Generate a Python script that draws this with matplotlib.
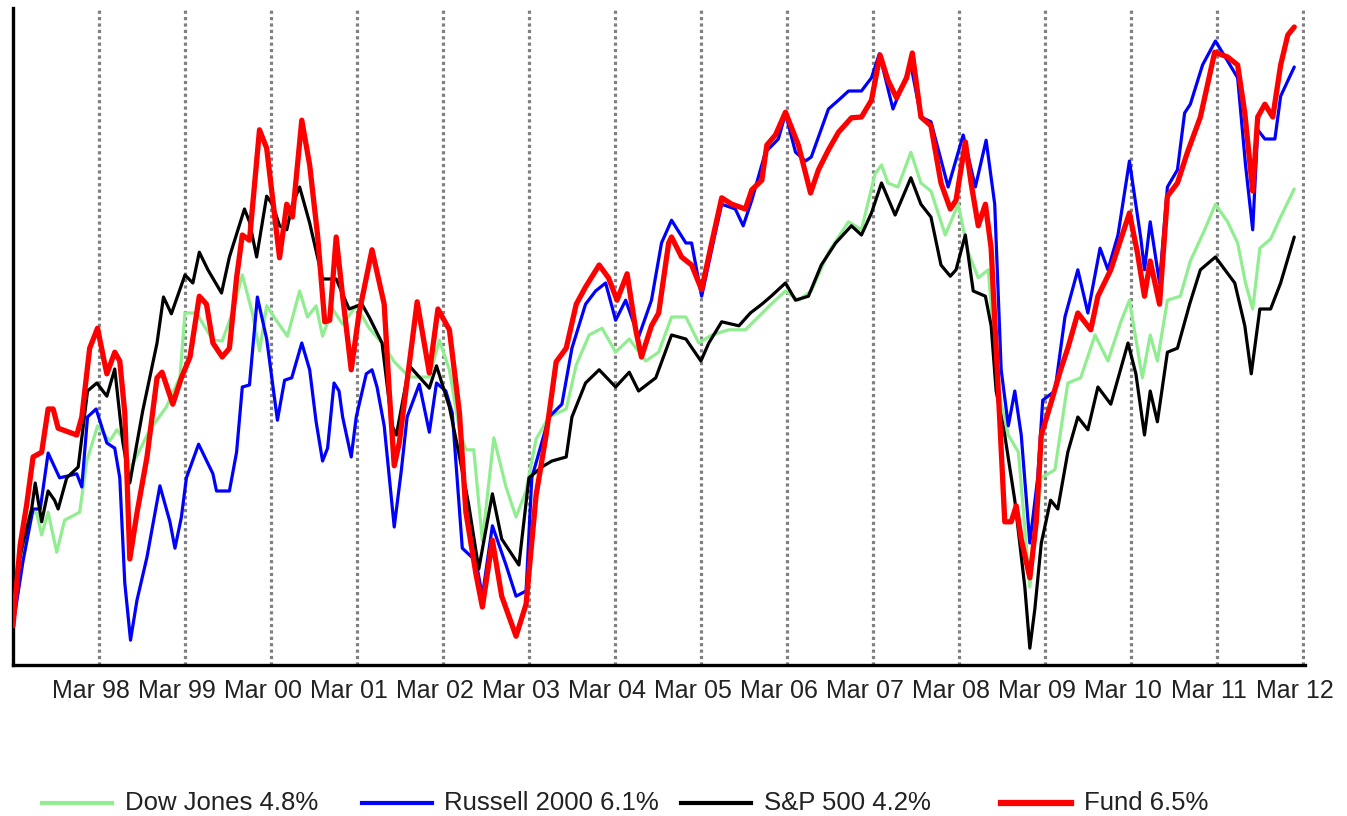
import matplotlib
matplotlib.use("Agg")
import matplotlib.pyplot as plt
import matplotlib.transforms as mtransforms
from matplotlib.lines import Line2D

plt.rcParams['font.family'] = ['Liberation Sans', 'DejaVu Sans']

# (months since Mar 1997, index level) - the chart shows no y scale
dow = [(0.0, 99.8), (0.6, 111.2), (2.4, 128.2), (3.3, 128.0), (4.0, 122.5), (4.9, 128.2), (6.1, 118.2),
       (7.2, 126.2), (9.3, 128.2), (10.3, 141.0), (11.8, 149.8), (13.5, 146.0), (14.5, 148.8), (15.6, 146.2),
       (16.3, 138.8), (17.7, 143.8), (19.1, 148.8), (21.4, 154.5), (23.3, 162.0), (24.0, 178.0), (25.6, 178.0),
       (27.9, 171.2), (29.2, 171.0), (30.6, 178.0), (32.0, 187.5), (33.4, 178.0), (34.4, 168.5), (35.4, 179.8),
       (36.8, 176.0), (38.3, 172.2), (40.0, 183.5), (41.1, 177.0), (42.3, 179.8), (43.2, 172.2), (44.6, 179.0),
       (46.0, 175.2), (47.9, 179.8), (49.7, 174.2), (51.5, 170.5), (53.2, 165.8), (55.3, 162.0), (58.1, 162.0),
       (59.5, 171.2), (60.9, 163.8), (62.3, 148.8), (63.2, 143.8), (64.3, 143.8), (65.5, 121.0), (67.1, 146.8),
       (68.8, 134.5), (70.2, 127.0), (71.6, 133.5), (73.0, 146.5), (74.8, 152.0), (77.2, 154.0), (78.6, 165.0),
       (80.4, 172.5), (82.2, 174.2), (84.1, 168.2), (86.0, 171.5), (88.3, 166.0), (90.1, 168.2), (91.9, 177.0),
       (93.9, 177.0), (95.7, 170.5), (97.5, 172.5), (99.9, 173.8), (102.2, 173.8), (104.0, 177.0), (105.8, 180.2),
       (107.8, 183.5), (109.6, 181.2), (111.4, 183.5), (113.8, 193.2), (116.6, 200.8), (118.4, 198.8),
       (120.3, 212.8), (121.2, 215.0), (122.1, 210.5), (123.5, 209.5), (125.3, 218.2), (126.7, 210.5),
       (128.1, 208.5), (130.1, 197.5), (131.9, 205.2), (133.3, 193.2), (134.7, 186.8), (136.1, 188.8),
       (137.5, 158.5), (138.9, 147.5), (140.3, 143.2), (141.9, 109.5), (143.5, 136.8), (145.4, 138.8),
       (147.2, 160.5), (149.0, 161.8), (151.0, 172.5), (152.8, 166.0), (154.6, 175.8), (155.8, 181.2),
       (157.6, 161.8), (158.7, 172.5), (159.7, 166.0), (161.1, 181.2), (162.9, 182.2), (164.3, 191.0),
       (166.3, 198.8), (167.8, 205.2), (169.5, 200.8), (170.9, 195.5), (172.0, 185.5), (173.0, 179.0),
       (174.0, 194.2), (175.5, 196.5), (176.9, 202.0), (178.8, 209.0)]

russell = [(0.0, 99.8), (1.4, 116.0), (2.8, 129.0), (3.8, 129.0), (4.9, 143.0), (6.5, 136.8), (7.5, 137.2),
           (8.9, 137.8), (9.6, 134.5), (10.4, 152.0), (11.6, 154.0), (13.1, 145.5), (14.2, 144.2), (14.9, 136.8),
           (15.6, 110.5), (16.4, 96.2), (17.3, 106.2), (18.7, 117.0), (20.5, 134.8), (21.9, 125.8), (22.6, 119.2),
           (23.5, 127.0), (24.2, 136.8), (25.9, 145.2), (27.9, 137.8), (28.4, 133.5), (30.2, 133.5), (31.2, 143.2),
           (32.0, 159.5), (33.0, 160.0), (34.1, 182.0), (35.4, 171.5), (36.9, 151.2), (37.9, 161.2), (38.9, 161.8),
           (40.3, 170.5), (41.4, 163.8), (42.3, 150.8), (43.2, 141.0), (43.9, 144.2), (44.8, 160.5), (45.5, 158.5),
           (46.0, 152.0), (47.2, 142.0), (47.9, 152.0), (49.3, 162.8), (50.1, 163.8), (50.8, 159.5), (51.8, 149.8),
           (53.2, 124.5), (54.2, 138.8), (55.0, 152.0), (56.7, 160.2), (58.1, 148.2), (59.1, 160.5), (60.4, 158.5),
           (61.3, 153.0), (62.7, 119.2), (64.6, 116.0), (65.5, 107.2), (66.9, 124.8), (68.8, 115.0), (70.2, 107.2),
           (71.6, 108.5), (72.4, 136.8), (74.8, 152.0), (76.6, 155.2), (78.0, 169.2), (79.9, 180.2), (81.3, 183.5),
           (82.7, 185.5), (84.1, 176.2), (85.5, 181.2), (87.3, 172.0), (89.1, 181.2), (90.5, 195.5), (91.9, 201.2),
           (93.9, 195.5), (94.7, 195.5), (96.1, 182.2), (98.1, 198.8), (98.9, 205.2), (100.8, 204.0),
           (101.9, 199.8), (103.1, 206.2), (105.0, 218.2), (106.8, 221.5), (107.8, 227.8), (109.2, 218.2),
           (110.6, 216.0), (111.4, 217.0), (113.8, 229.0), (115.2, 231.2), (116.6, 233.5), (118.4, 233.5),
           (119.8, 236.8), (120.9, 242.8), (122.8, 229.0), (125.3, 240.0), (126.7, 227.0), (128.1, 225.8),
           (130.5, 209.5), (132.6, 222.5), (134.3, 209.5), (135.8, 221.2), (137.0, 205.2), (137.9, 163.8),
           (138.9, 149.8), (139.8, 158.5), (140.7, 147.5), (141.9, 120.5), (143.0, 136.8), (143.7, 156.2),
           (145.4, 158.5), (146.8, 177.0), (148.6, 188.8), (150.0, 178.0), (151.7, 194.2), (152.8, 188.8),
           (154.2, 197.5), (155.8, 216.0), (157.4, 196.5), (157.9, 188.8), (158.7, 200.8), (160.0, 185.5),
           (161.1, 209.5), (162.5, 213.8), (163.5, 228.0), (164.3, 230.2), (166.0, 240.0), (167.8, 246.0),
           (169.5, 241.0), (170.9, 236.8), (172.0, 215.0), (173.0, 198.8), (173.7, 223.8), (174.7, 221.5),
           (176.1, 221.5), (176.9, 232.2), (178.8, 239.5)]

sp500 = [(0.0, 99.8), (0.6, 114.0), (1.4, 120.5), (2.6, 129.0), (3.1, 135.5), (4.0, 125.8), (4.9, 133.5),
         (5.8, 131.2), (6.3, 129.0), (7.5, 136.8), (9.1, 139.5), (10.4, 158.5), (11.7, 160.5), (13.1, 157.2),
         (14.2, 164.0), (15.3, 146.0), (16.3, 135.5), (18.1, 153.5), (20.1, 170.5), (21.0, 182.0), (22.1, 177.8),
         (24.0, 187.5), (25.1, 185.5), (26.0, 193.2), (27.2, 188.8), (29.1, 183.0), (30.2, 192.0), (32.3, 204.0),
         (33.0, 200.8), (34.0, 192.0), (35.4, 207.2), (36.2, 205.2), (37.2, 199.8), (38.2, 198.8), (39.0, 205.2),
         (40.0, 209.5), (41.4, 200.5), (43.2, 186.5), (45.1, 186.5), (46.9, 179.0), (48.7, 180.2), (49.7, 177.0),
         (51.5, 170.5), (52.9, 149.8), (53.5, 147.5), (55.3, 164.8), (58.1, 159.2), (59.1, 164.8), (60.9, 154.5),
         (62.3, 142.2), (63.6, 130.0), (65.0, 114.0), (66.9, 132.8), (68.2, 121.5), (70.6, 115.0), (72.0, 136.8),
         (73.8, 139.5), (75.2, 141.0), (77.2, 142.0), (78.0, 152.0), (79.9, 160.5), (81.8, 163.8), (84.1, 159.5),
         (86.0, 163.2), (87.3, 158.5), (89.7, 161.8), (91.9, 172.5), (93.9, 171.5), (96.0, 166.0), (97.1, 170.5),
         (98.9, 175.8), (101.3, 174.8), (102.9, 178.0), (104.5, 180.2), (105.8, 182.2), (107.8, 185.5),
         (109.2, 181.2), (111.0, 182.2), (112.8, 190.0), (114.8, 195.5), (117.0, 199.8), (118.4, 197.5),
         (119.8, 203.0), (121.2, 210.5), (123.1, 202.5), (125.3, 211.8), (126.7, 205.2), (128.1, 202.0),
         (129.5, 190.0), (130.8, 187.2), (131.6, 188.8), (132.9, 197.5), (134.0, 183.5), (135.7, 182.2),
         (136.5, 174.8), (137.2, 158.5), (138.4, 147.5), (139.8, 131.2), (141.2, 109.5), (141.9, 94.2),
         (142.6, 104.0), (143.5, 120.5), (144.8, 131.2), (145.8, 129.0), (147.2, 143.2), (148.6, 152.0),
         (150.0, 148.8), (151.4, 159.5), (153.2, 155.2), (155.6, 170.5), (156.7, 162.8), (157.9, 147.5),
         (158.7, 158.5), (159.7, 150.8), (161.1, 168.2), (162.5, 169.2), (164.2, 180.2), (165.7, 188.8),
         (167.8, 192.0), (170.5, 185.5), (171.9, 174.8), (172.8, 162.8), (174.0, 179.0), (175.5, 179.0),
         (176.9, 185.5), (178.8, 197.0)]

fund = [(0.0, 99.8), (1.0, 120.0), (1.9, 130.0), (2.8, 142.0), (4.0, 143.2), (4.9, 154.0), (5.6, 154.0),
        (6.3, 149.2), (8.9, 147.5), (9.6, 152.0), (10.7, 169.2), (11.8, 174.2), (12.7, 166.2), (13.1, 162.8),
        (14.2, 168.2), (14.9, 166.0), (15.6, 153.0), (16.3, 116.5), (17.3, 128.0), (18.7, 142.0), (20.1, 161.8),
        (20.8, 163.2), (22.3, 155.2), (23.5, 161.8), (24.7, 167.0), (26.0, 182.2), (27.0, 180.2), (27.9, 170.5),
        (29.2, 167.0), (30.2, 169.2), (31.2, 186.8), (32.0, 197.5), (33.0, 196.2), (34.4, 223.8), (35.4, 219.2),
        (37.2, 191.8), (38.2, 205.2), (39.0, 202.0), (40.3, 226.2), (41.4, 215.0), (42.5, 197.5), (43.5, 175.8),
        (44.2, 176.2), (45.1, 197.0), (46.0, 182.2), (47.2, 163.8), (48.3, 178.0), (50.1, 193.8), (51.8, 180.2),
        (52.5, 158.5), (53.2, 139.8), (53.9, 145.5), (56.4, 180.8), (58.1, 163.0), (59.3, 179.0), (60.9, 173.8),
        (62.3, 153.0), (63.2, 128.2), (64.6, 112.8), (65.5, 104.5), (66.9, 121.2), (68.2, 107.2), (70.2, 97.2),
        (71.6, 105.2), (73.0, 132.5), (74.4, 147.5), (75.8, 165.8), (77.2, 169.2), (78.6, 180.2), (79.9, 184.5),
        (81.8, 190.0), (83.1, 186.8), (84.3, 181.2), (85.7, 187.8), (86.9, 173.8), (87.7, 167.0), (89.1, 174.8),
        (90.1, 178.0), (91.5, 195.5), (91.9, 197.0), (93.3, 192.0), (94.7, 190.0), (96.1, 183.8), (97.5, 195.5),
        (98.9, 206.8), (100.3, 205.2), (102.2, 204.0), (103.1, 208.8), (104.5, 211.2), (105.2, 220.0),
        (106.4, 222.5), (107.8, 228.2), (109.6, 220.0), (111.3, 208.0), (112.4, 213.8), (113.8, 218.8),
        (115.2, 223.2), (117.0, 226.8), (118.4, 227.0), (119.8, 231.2), (121.0, 242.5), (122.1, 236.2),
        (123.3, 231.8), (124.7, 236.8), (125.5, 243.0), (126.7, 227.0), (128.1, 224.8), (129.5, 210.5),
        (130.8, 204.0), (131.6, 206.2), (132.9, 220.8), (133.7, 210.5), (134.7, 199.8), (135.7, 205.2),
        (136.5, 194.2), (137.5, 158.5), (138.4, 125.8), (139.3, 125.8), (140.0, 129.8), (140.7, 121.5),
        (141.9, 111.8), (142.8, 125.8), (143.5, 147.5), (144.8, 155.2), (146.2, 163.8), (147.2, 169.2),
        (148.6, 178.0), (150.4, 173.8), (151.4, 182.2), (153.2, 188.8), (155.8, 203.0), (156.9, 193.2),
        (157.9, 182.2), (158.7, 191.0), (160.0, 180.2), (161.1, 207.2), (162.5, 210.5), (163.9, 218.2),
        (165.7, 227.0), (167.7, 243.2), (169.5, 242.0), (170.9, 240.0), (171.9, 228.0), (173.0, 208.5),
        (173.7, 227.0), (174.7, 230.2), (175.8, 227.0), (176.9, 240.0), (177.9, 247.5), (178.8, 249.5)]

tick_months = list(range(12, 181, 12))
tick_labels = ['Mar 98', 'Mar 99', 'Mar 00', 'Mar 01', 'Mar 02', 'Mar 03', 'Mar 04', 'Mar 05',
               'Mar 06', 'Mar 07', 'Mar 08', 'Mar 09', 'Mar 10', 'Mar 11', 'Mar 12']

# label, data, colour, plot width, legend width
series = [
    ('Dow Jones 4.8%', dow, '#90ee90', 2.3, 3.0),
    ('Russell 2000 6.1%', russell, '#0000ff', 2.3, 3.0),
    ('S&P 500 4.2%', sp500, '#000000', 2.3, 3.0),
    ('Fund 6.5%', fund, '#ff0000', 3.8, 4.5),
]

W, H = 1347, 816
fig = plt.figure(figsize=(W / 100, H / 100), dpi=100)
ax = fig.add_axes([13 / W, 1 - 665 / H, (1305 - 13) / W, (665 - 8) / H])

for label, data, color, lw, _ in series:
    m, v = zip(*data)
    ax.plot(m, v, color=color, lw=lw, solid_joinstyle='round', solid_capstyle='round', zorder=3)

ax.set_xlim(0, 180.3)
ax.set_ylim(90, 254.25)
ax.set_yticks([])
ax.set_xticks(tick_months)
ax.set_xticklabels(tick_labels)
ax.tick_params(axis='x', length=0, pad=10, labelsize=18, labelcolor='#222222')
offset = mtransforms.ScaledTranslation(-8 / 100, 0, fig.dpi_scale_trans)
for lbl in ax.get_xticklabels():
    lbl.set_transform(lbl.get_transform() + offset)

ax.grid(True, axis='x', color='#808080', linestyle=(0, (1, 1)), linewidth=2.3, zorder=1)
ax.set_axisbelow(True)
for side in ['top', 'right']:
    ax.spines[side].set_visible(False)
for side in ['left', 'bottom']:
    ax.spines[side].set_linewidth(2.4)
    ax.spines[side].set_color('black')

# legend row along the bottom, fixed column spacing
ly = 1 - 803 / H
for i, (label, data, color, _, llw) in enumerate(series):
    x0 = (42 + 319.5 * i) / W
    fig.add_artist(Line2D([x0, x0 + 70 / W], [ly, ly], transform=fig.transFigure,
                          color=color, lw=llw))
    fig.text(x0 + 83 / W, ly, label, va='center', ha='left', fontsize=18.5, color='#222222')

fig.savefig('out.png', dpi=100)
